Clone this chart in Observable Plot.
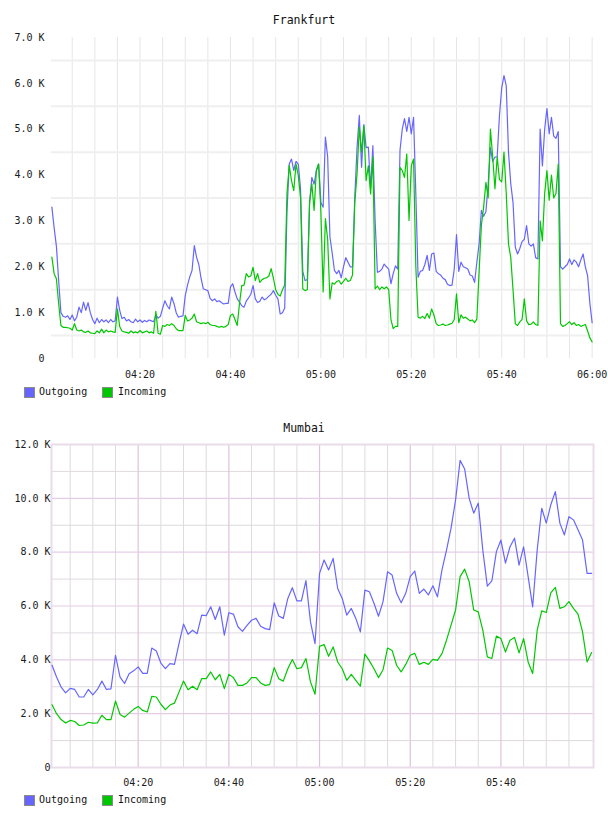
<!DOCTYPE html>
<html><head><meta charset="utf-8">
<script src="https://cdn.jsdelivr.net/npm/d3@7"></script>
<script src="https://cdn.jsdelivr.net/npm/@observablehq/plot@0.6"></script>
<style>
body{margin:0;background:#fff;width:608px;height:816px;position:relative;overflow:hidden;font-family:"DejaVu Sans Mono",monospace;}
.title{position:absolute;left:0;width:608px;text-align:center;font-size:11.5px;color:#111;line-height:14px;}
.chart{position:absolute;left:0;}
.sw{position:absolute;width:9px;height:9px;border:1px solid #8a8a8a;}
.lt{position:absolute;font-size:10px;line-height:12px;color:#111;}
</style></head><body>
<div class="title" style="top:13px">Frankfurt</div>
<div class="chart" id="c1" style="top:30px"></div>
<div class="sw" style="left:24px;top:387px;background:#6666ff"></div><div class="lt" style="left:39px;top:386px">Outgoing</div>
<div class="sw" style="left:102px;top:387px;background:#00c800"></div><div class="lt" style="left:118px;top:386px">Incoming</div>
<div class="title" style="top:421px">Mumbai</div>
<div class="chart" id="c2" style="top:437px"></div>
<div class="sw" style="left:24px;top:795px;background:#6666ff"></div><div class="lt" style="left:39px;top:794px">Outgoing</div>
<div class="sw" style="left:102px;top:795px;background:#00c800"></div><div class="lt" style="left:118px;top:794px">Incoming</div>
<script>
// ---- Frankfurt: samples every 30 s starting 04:00:30 ----
const fraSeries = ["Outgoing", "Incoming"];
const fraStart = "04:00:30";
const fraStepSec = 30;
const fraOut = [
3300,2850,2450,1700,1000,920,900,930,850,950,
820,900,1120,1000,1230,1050,1220,1000,850,760,
880,780,850,800,840,780,850,800,820,1340,
1050,870,900,820,850,800,780,860,800,840,
790,830,800,840,820,800,950,880,920,1100,
1260,1150,1080,1340,1200,1000,900,920,930,1370,
1600,1780,1920,2460,2210,2050,1750,1520,1500,1480,
1310,1260,1300,1240,1260,1220,1190,1200,1200,1560,
1630,1450,1300,1230,1150,1120,1250,1320,1400,1590,
1300,1220,1250,1340,1280,1310,1360,1400,1480,1380,
1300,970,1000,1100,3200,4240,4350,4100,4300,4240,
3700,1900,1700,1720,3400,3950,3800,4100,4240,3400,
3300,4830,4400,2650,2300,1920,1850,1920,1760,2000,
2200,2100,2000,2000,3520,4600,5300,4170,5100,4600,
4610,3700,4640,3000,1880,1900,1950,2060,2000,1950,
1630,1850,2020,1950,4540,5000,5230,4950,5260,4900,
5260,3600,1770,1900,1920,2050,2250,1920,2280,2300,
1900,1850,1820,1750,1720,1620,1590,1600,1950,2700,
1900,2100,2000,1980,1950,1820,1800,1660,2100,2500,
3230,3100,3200,3800,4600,4300,4390,4400,5300,5900,
6170,5950,4500,3810,3400,2430,2280,2400,2550,2600,
2900,2500,2450,2500,2200,2170,5000,4200,5000,5450,
4900,5260,4850,4800,4950,2000,1950,2000,2050,2170,
2050,2150,2100,2000,2150,2280,2000,1800,1200,780
];
const fraIn = [
2210,1850,1740,1200,720,680,680,670,660,620,
760,620,600,620,580,570,600,560,550,540,
600,560,640,560,620,580,600,580,570,1080,
700,600,580,570,550,600,560,580,560,610,
560,580,600,560,580,550,1030,550,530,720,
700,740,720,760,720,650,610,610,610,940,
820,840,880,970,800,780,760,780,760,790,
740,720,720,700,680,700,680,700,740,940,
970,850,720,1200,1590,1600,1850,1780,1800,1990,
1700,1850,1660,1720,1750,1760,1800,1960,1750,1500,
1400,1360,1500,1600,3600,4210,3880,3660,4240,4000,
3500,1520,1480,1500,3400,3810,3230,4100,4240,3200,
1450,3050,2600,1300,1650,1620,1680,1700,1620,1680,
1750,1680,1700,1820,3400,4030,5040,4500,5080,3880,
4200,3590,4400,1520,1580,1500,1560,1520,1560,1500,
850,650,700,700,4170,4100,3950,4460,3010,4200,
4350,2000,900,880,920,870,980,880,1080,950,
760,720,730,750,720,730,750,770,850,1410,
780,950,880,900,860,820,840,780,860,1900,
2900,3300,3840,3500,5000,4400,3700,4400,3900,3850,
4500,3600,2500,2200,1500,760,720,800,850,1300,
820,740,750,800,740,720,3000,2570,3600,4100,
3450,4000,3500,3600,4240,760,700,720,760,800,
740,780,720,740,700,720,740,600,450,360
];
const fraYTicks = [0,1000,2000,3000,4000,5000,6000,7000];
const fraYGrid = [500,1500,2500,3500,4500,5500,6500];
const fraXTicks = ["04:20","04:40","05:00","05:20","05:40","06:00"];
const fraXDomain = ["04:00:25","06:00:18"];

// ---- Mumbai: samples every minute starting 04:01 ----
const mumStart = "04:01:00";
const mumStepSec = 60;
const mumOut = [
3800,3360,2990,2770,2940,2900,2620,2620,2900,2700,
2900,3210,2900,2920,4170,3360,3120,3480,3590,3740,
3500,3500,4440,4330,3880,3670,3860,3830,4600,5330,
4950,5100,4970,5660,5640,5970,5500,5970,4920,5750,
5700,5230,5060,5280,5470,5540,5250,5160,5120,6120,
5630,5540,6280,6680,6190,6190,6940,5410,4600,7210,
7710,7340,7770,6650,6280,5660,5910,5540,5040,6590,
6530,6100,5620,6160,7270,7150,6470,6120,6470,7090,
7300,6470,6630,6410,6750,6340,7340,8080,8890,9940,
11410,11090,10000,9450,9820,8080,6740,6930,8020,8450,
7590,8200,8520,7520,8200,7090,5970,8080,9630,9080,
9760,10250,9080,8640,9320,9200,8830,8450,7210,7210
];
const mumIn = [
2330,2000,1780,1650,1750,1710,1560,1580,1680,1650,
1660,1940,1780,1780,2470,1970,1870,2020,2160,2270,
2120,2060,2640,2620,2350,2150,2320,2390,2800,3210,
2890,3020,2890,3300,3300,3550,3260,3460,2930,3460,
3340,3050,3050,3140,3340,3340,3140,3050,3080,3710,
3300,3210,3670,4010,3670,3710,4050,3180,2720,4500,
4570,4130,4480,3920,3670,3240,3460,3240,3020,4210,
3960,3670,3340,3630,4440,4350,3800,3550,3830,4170,
4240,3830,3910,3830,4020,3980,4230,4730,5290,5850,
7090,7370,6900,5850,5780,5100,4110,4050,4880,4790,
4290,4730,4830,4260,4790,3920,3490,5100,5820,5760,
6490,6690,5910,5970,6160,5910,5700,5040,3920,4270
];
const mumYTicks = [0,2000,4000,6000,8000,10000,12000];
const mumYMinor = [1000,3000,5000,7000,9000,11000];
const mumXMajor = ["04:20","04:40","05:00","05:20","05:40"];
const mumXDomain = ["04:00:53","06:00:25"];

const colors = {Outgoing:"#6666ff", Incoming:"#00c800"};

// ---- helpers ----
const T = s => { const p = s.split(":").map(Number); return new Date(Date.UTC(2000,0,1,p[0],p[1],p[2]||0)); };
const series = (vals, start, step) => vals.map((v,i) => ({t: new Date(T(start).getTime() + i*step*1000), v}));
const fmtK = d => d === 0 ? "0" : (d/1000).toFixed(1) + " K";
const fmtT = d3.utcFormat("%H:%M");

const fraOutData = series(fraOut, fraStart, fraStepSec);
const fraInData = series(fraIn, fraStart, fraStepSec);
const mumOutData = series(mumOut, mumStart, mumStepSec);
const mumInData = series(mumIn, mumStart, mumStepSec);

const fraDom = fraXDomain.map(T);
const fraGridX = d3.utcMinute.every(5).range(T("04:05"), T("06:00:30"));
const mumDom = mumXDomain.map(T);
const mumMajorX = mumXMajor.map(T);
const mumMinorX = d3.utcMinute.every(5).range(T("04:05"), T("06:00:30")).filter(d => d.getUTCMinutes() % 20 !== 0);

const style = {fontFamily:"'DejaVu Sans Mono', monospace", fontSize:"10px", color:"#1a1a1a", background:"transparent", overflow:"visible"};

const c1 = Plot.plot({
  width:608, height:360, marginLeft:51, marginRight:15, marginTop:7, marginBottom:32,
  style,
  x:{type:"utc", domain:fraDom, label:null},
  y:{domain:[0,7000], label:null},
  marks:[
    Plot.gridX(fraGridX, {stroke:"#e6e6e6", strokeOpacity:1, strokeWidth:1}),
    Plot.gridY(fraYGrid, {stroke:"#efefef", strokeOpacity:1, strokeWidth:2}),
    Plot.axisY(fraYTicks, {tickSize:0, tickPadding:7, tickFormat:fmtK, label:null}),
    Plot.axisX(fraXTicks.map(T), {tickSize:0, tickPadding:12, tickFormat:fmtT, label:null}),
    Plot.line(fraOutData, {x:"t", y:"v", stroke:colors.Outgoing, strokeWidth:1.2}),
    Plot.line(fraInData, {x:"t", y:"v", stroke:colors.Incoming, strokeWidth:1.2})
  ]
});
document.getElementById("c1").append(c1);

const c2 = Plot.plot({
  width:608, height:360, marginLeft:51, marginRight:15, marginTop:7, marginBottom:30,
  style,
  x:{type:"utc", domain:mumDom, label:null},
  y:{domain:[0,12000], label:null},
  marks:[
    Plot.gridX(mumMinorX, {stroke:"#dedade", strokeOpacity:1, strokeWidth:1}),
    Plot.gridY(mumYMinor, {stroke:"#dedade", strokeOpacity:1, strokeWidth:1}),
    Plot.gridX(mumMajorX, {stroke:"#dcc4dc", strokeOpacity:1, strokeWidth:1.2}),
    Plot.gridY(mumYTicks, {stroke:"#e6cce6", strokeOpacity:1, strokeWidth:1.2}),
    Plot.frame({stroke:"#eadcea", strokeWidth:2}),
    Plot.axisY(mumYTicks, {tickSize:0, tickPadding:1, tickFormat:fmtK, label:null}),
    Plot.axisX(mumMajorX, {tickSize:0, tickPadding:11, tickFormat:fmtT, label:null}),
    Plot.line(mumOutData, {x:"t", y:"v", stroke:colors.Outgoing, strokeWidth:1.2}),
    Plot.line(mumInData, {x:"t", y:"v", stroke:colors.Incoming, strokeWidth:1.2})
  ]
});
document.getElementById("c2").append(c2);
</script>
</body></html>
